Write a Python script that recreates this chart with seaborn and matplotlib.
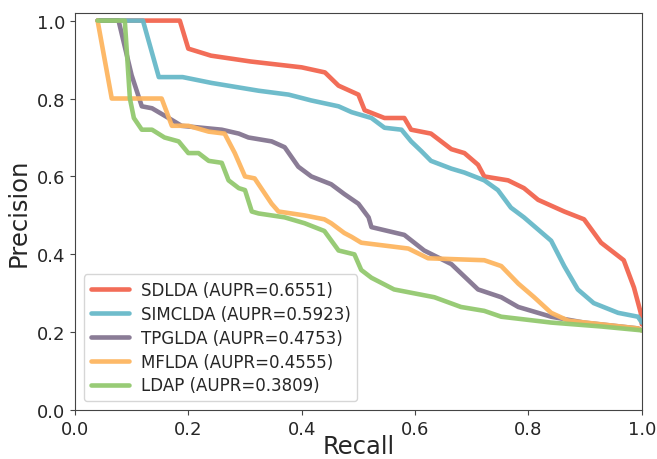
import pandas as pd
import matplotlib
matplotlib.use("Agg")
import matplotlib.pyplot as plt
import seaborn as sns

sns.set_style("ticks")
plt.rcParams['font.family'] = ['DejaVu Sans']

# recall / precision points
sdlda_recall = [0.04, 0.185, 0.20, 0.24, 0.31, 0.40, 0.441, 0.465, 0.50, 0.511, 0.546, 0.581, 0.593,
                0.628, 0.664, 0.687, 0.711, 0.722, 0.764, 0.792, 0.817, 0.863, 0.898, 0.928, 0.968,
                0.986, 0.998, 1.0]
sdlda_prec = [1.0, 1.0, 0.928, 0.91, 0.895, 0.88, 0.867, 0.833, 0.81, 0.77, 0.75, 0.75, 0.72,
              0.71, 0.67, 0.66, 0.63, 0.60, 0.59, 0.57, 0.54, 0.51, 0.49, 0.43, 0.385,
              0.315, 0.25, 0.22]

simclda_recall = [0.04, 0.12, 0.148, 0.19, 0.241, 0.324, 0.377, 0.417, 0.465, 0.488, 0.523, 0.546,
                  0.576, 0.593, 0.611, 0.628, 0.664, 0.687, 0.722, 0.746, 0.769, 0.792, 0.84,
                  0.863, 0.887, 0.915, 0.958, 0.993, 1.0]
simclda_prec = [1.0, 1.0, 0.855, 0.855, 0.84, 0.82, 0.81, 0.795, 0.78, 0.765, 0.75, 0.725, 0.72,
                0.69, 0.665, 0.64, 0.62, 0.61, 0.59, 0.565, 0.52, 0.495, 0.435, 0.37, 0.31,
                0.275, 0.25, 0.24, 0.225]

tpglda_recall = [0.04, 0.077, 0.10, 0.118, 0.136, 0.171, 0.188, 0.259, 0.289, 0.306, 0.347, 0.37,
                 0.394, 0.417, 0.452, 0.475, 0.50, 0.518, 0.523, 0.581, 0.616, 0.664, 0.711,
                 0.752, 0.782, 0.84, 0.898, 0.993, 1.0]
tpglda_prec = [1.0, 1.0, 0.86, 0.78, 0.775, 0.745, 0.73, 0.72, 0.71, 0.70, 0.69, 0.675, 0.625,
               0.60, 0.58, 0.555, 0.53, 0.495, 0.47, 0.45, 0.41, 0.375, 0.31, 0.29, 0.265,
               0.24, 0.225, 0.21, 0.205]

mflda_recall = [0.04, 0.065, 0.153, 0.171, 0.20, 0.236, 0.264, 0.282, 0.30, 0.317, 0.347, 0.359,
                0.405, 0.44, 0.452, 0.475, 0.488, 0.505, 0.588, 0.623, 0.722, 0.752, 0.782,
                0.81, 0.84, 0.87, 0.993, 1.0]
mflda_prec = [1.0, 0.80, 0.80, 0.73, 0.73, 0.715, 0.71, 0.66, 0.60, 0.595, 0.53, 0.51, 0.50,
              0.49, 0.48, 0.455, 0.445, 0.43, 0.415, 0.39, 0.385, 0.37, 0.325, 0.29, 0.25,
              0.23, 0.21, 0.205]

ldap_recall = [0.04, 0.088, 0.097, 0.104, 0.118, 0.136, 0.158, 0.183, 0.20, 0.218, 0.236, 0.259,
               0.271, 0.289, 0.30, 0.312, 0.324, 0.37, 0.405, 0.44, 0.465, 0.493, 0.505, 0.523,
               0.563, 0.634, 0.681, 0.722, 0.752, 0.84, 0.928, 1.0]
ldap_prec = [1.0, 1.0, 0.80, 0.75, 0.72, 0.72, 0.70, 0.69, 0.66, 0.66, 0.64, 0.635, 0.59, 0.57,
             0.565, 0.51, 0.505, 0.495, 0.48, 0.46, 0.41, 0.40, 0.36, 0.34, 0.31, 0.29, 0.265,
             0.255, 0.24, 0.225, 0.215, 0.205]

labels = ["SDLDA (AUPR=0.6551)", "SIMCLDA (AUPR=0.5923)", "TPGLDA (AUPR=0.4753)",
          "MFLDA (AUPR=0.4555)", "LDAP (AUPR=0.3809)"]
colors = ["#f2654f", "#67b9c9", "#847590", "#fdb560", "#93c96f"]

series = [(sdlda_recall, sdlda_prec), (simclda_recall, simclda_prec), (tpglda_recall, tpglda_prec),
          (mflda_recall, mflda_prec), (ldap_recall, ldap_prec)]

frames = []
for lab, (r, p) in zip(labels, series):
    d = pd.DataFrame({"Recall": r, "Precision": p})
    d["model"] = lab
    frames.append(d)
df = pd.concat(frames, ignore_index=True)

fig, ax = plt.subplots(figsize=(6.57, 4.6), dpi=100)
sns.lineplot(data=df, x="Recall", y="Precision", hue="model", palette=colors,
             sort=False, estimator=None, linewidth=3.3, alpha=0.95, ax=ax)

ax.set_xlim(0, 1)
ax.set_ylim(0, 1.02)
ax.set_xticks([0, 0.2, 0.4, 0.6, 0.8, 1.0])
ax.set_yticks([0, 0.2, 0.4, 0.6, 0.8, 1.0])
ax.tick_params(labelsize=13, color="#444444")
ax.set_xlabel("Recall", fontsize=17.5, labelpad=-3)
ax.set_ylabel("Precision", fontsize=17.5)
for s in ax.spines.values():
    s.set_visible(True)
    s.set_color("#444444")

ax.legend(loc="lower left", fontsize=12, handlelength=2.3, handletextpad=0.7,
          labelspacing=0.35, borderpad=0.4, borderaxespad=0.55)

plt.subplots_adjust(left=0.114, right=0.977, top=0.970, bottom=0.106)
plt.savefig("out.png", dpi=100)
plt.close()
